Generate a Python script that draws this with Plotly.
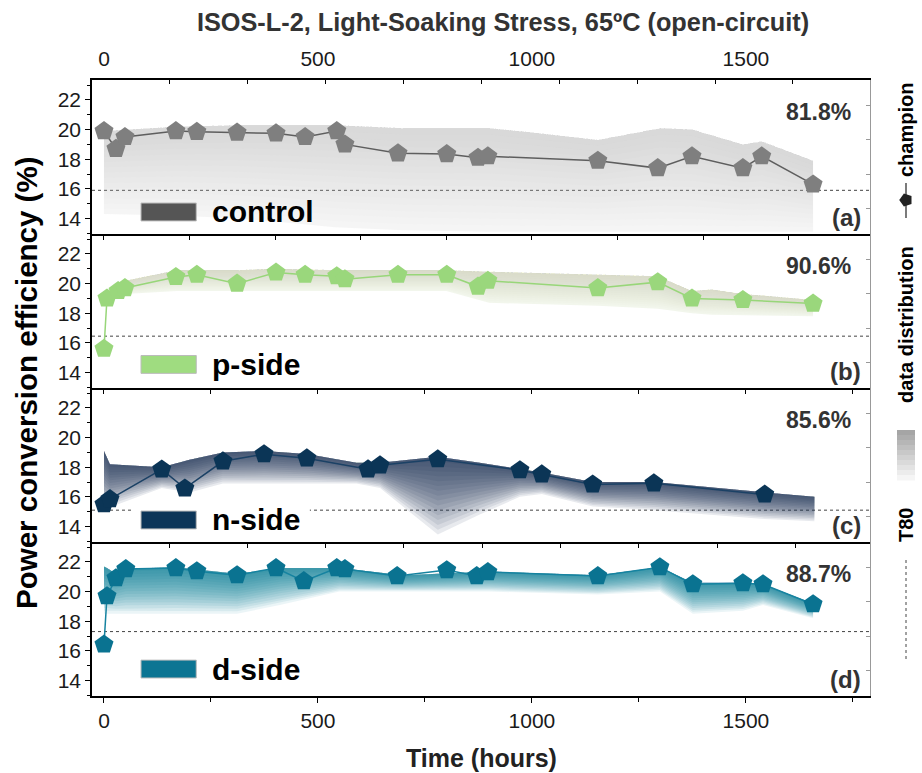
import numpy as np
import plotly.graph_objects as go

FONT = "Liberation Sans, Arial, Helvetica, sans-serif"

# ---------------- data ----------------
series_names = ["control", "p-side", "n-side", "d-side"]
panel_tags = ["(a)", "(b)", "(c)", "(d)"]
retention = ["81.8%", "90.6%", "85.6%", "88.7%"]
t80_values = [15.9, 16.45, 15.1, 17.3]

# champion devices
t_ctrl = [0, 28, 49, 168, 217, 311, 402, 470, 544, 563, 687, 801, 874, 897, 1154, 1294, 1374, 1493, 1537, 1657]
pce_ctrl = [19.9, 18.7, 19.5, 19.9, 19.85, 19.8, 19.75, 19.5, 19.9, 19.0, 18.4, 18.35, 18.1, 18.2, 17.9, 17.4, 18.2, 17.4, 18.2, 16.3]

t_p = [0, 7, 33, 49, 168, 217, 311, 402, 470, 544, 563, 687, 801, 874, 897, 1154, 1294, 1374, 1493, 1657]
pce_p = [15.6, 19.0, 19.5, 19.7, 20.45, 20.6, 20.0, 20.75, 20.6, 20.5, 20.3, 20.6, 20.6, 19.8, 20.2, 19.7, 20.1, 19.0, 18.9, 18.65]

t_n = [0, 14, 135, 189, 278, 374, 474, 617, 645, 780, 972, 1023, 1142, 1285, 1544]
pce_n = [15.5, 15.85, 17.85, 16.57, 18.4, 18.88, 18.6, 17.86, 18.13, 18.54, 17.8, 17.52, 16.84, 16.91, 16.16]

t_d = [0, 7, 28, 51, 168, 217, 311, 402, 467, 544, 563, 685, 801, 871, 897, 1154, 1299, 1376, 1493, 1540, 1657]
pce_d = [16.43, 19.69, 20.91, 21.52, 21.59, 21.38, 21.11, 21.59, 20.71, 21.59, 21.52, 21.05, 21.45, 21.05, 21.32, 21.05, 21.65, 20.5, 20.57, 20.5, 19.15]

# data distribution (upper / lower envelope)
band_t_ctrl = [0, 50, 170, 310, 400, 540, 700, 900, 1000, 1154, 1300, 1374, 1493, 1537, 1657]
band_hi_ctrl = [19.9, 20.0, 20.2, 20.3, 20.3, 20.3, 20.1, 20.1, 19.8, 19.3, 20.1, 20.0, 19.0, 19.2, 17.9]
band_lo_ctrl = [14.3, 14.3, 14.2, 14.0, 13.8, 13.4, 13.2, 13.1, 13.1, 13.1, 13.1, 13.1, 13.1, 13.1, 13.1]

band_t_p = [7, 50, 170, 310, 400, 550, 700, 800, 900, 1154, 1294, 1374, 1420, 1493, 1657]
band_hi_p = [19.3, 20.2, 20.9, 20.9, 21.0, 20.9, 20.9, 20.9, 20.8, 20.6, 20.5, 19.5, 19.6, 19.3, 18.9]
band_lo_p = [18.9, 19.3, 19.5, 19.5, 19.5, 19.5, 19.5, 19.5, 18.7, 18.5, 18.3, 18.0, 17.9, 17.9, 17.8]

band_t_n = [0, 14, 135, 200, 278, 374, 474, 590, 645, 780, 878, 972, 1023, 1142, 1285, 1544, 1660]
band_hi_n = [19.1, 18.2, 18.0, 18.5, 19.0, 19.1, 18.9, 18.3, 18.3, 18.7, 18.3, 17.9, 17.65, 17.0, 17.0, 16.3, 16.0]
band_lo_n = [15.3, 15.3, 16.6, 16.3, 16.9, 16.9, 16.9, 16.9, 16.6, 13.45, 14.8, 16.0, 16.2, 15.35, 15.1, 14.5, 14.35]

band_t_d = [0, 7, 28, 51, 168, 311, 411, 550, 700, 900, 1154, 1299, 1376, 1493, 1540, 1657]
band_hi_d = [21.7, 21.6, 21.2, 21.55, 21.65, 21.2, 21.6, 21.6, 21.1, 21.35, 21.1, 21.65, 20.6, 20.6, 20.5, 19.2]
band_lo_d = [18.5, 18.5, 18.5, 18.5, 18.5, 18.5, 19.1, 20.0, 20.0, 20.0, 19.8, 20.0, 18.5, 18.7, 19.1, 18.2]

# axis ticks
x_tick_vals = [0, 500, 1000, 1500]
y_tick_vals = [14, 16, 18, 20, 22]

# ---------------- styles ----------------
XR = [-28, 1790]
YR = [12.95, 23.35]
marker_colors = ["#7f7f7f", "#9ad77c", "#0b3556", "#0a7391"]
line_colors = ["#5e5e5e", "#98d679", "#1b4165", "#1683a0"]
swatch_colors = ["#555555", "#9fdc80", "#0c3558", "#0c7593"]
band_rgb = [(185, 185, 185), (185, 205, 150), (25, 50, 85), (0, 125, 150)]
band_base_alpha = [0.15, 0.18, 0.10, 0.08]
band_alpha = [0.028, 0.031, 0.087, 0.083]
N_LAYERS = 16
legend_y = [0.143, 0.153, 0.143, 0.175]
bottom_ticks = [dict(tickmode="linear", tick0=0, dtick=200),
                dict(tickmode="linear", tick0=0, dtick=250),
                dict(tickmode="linear", tick0=152, dtick=183),
                None]

champ = [(t_ctrl, pce_ctrl), (t_p, pce_p), (t_n, pce_n), (t_d, pce_d)]
bands = [(band_t_ctrl, band_hi_ctrl, band_lo_ctrl), (band_t_p, band_hi_p, band_lo_p),
         (band_t_n, band_hi_n, band_lo_n), (band_t_d, band_hi_d, band_lo_d)]

fig = go.Figure()
layout = {}
shapes = []
annotations = []

for i in range(4):
    k = i + 1
    xs = "x" if k == 1 else f"x{k}"
    ys = "y" if k == 1 else f"y{k}"
    # gradient-like distribution band: stacked translucent layers
    bt, hi, lo = bands[i]
    bt = np.array(bt, float)
    hi = np.array(hi, float)
    lo = np.array(lo, float)
    r, g, b = band_rgb[i]
    for j in range(N_LAYERS):
        f = (N_LAYERS - j) / N_LAYERS
        lo_j = hi - f * (hi - lo)
        a = band_base_alpha[i] if j == 0 else band_alpha[i]
        fig.add_trace(go.Scatter(
            x=np.concatenate([bt, bt[::-1]]), y=np.concatenate([hi, lo_j[::-1]]),
            fill="toself", mode="lines", line=dict(width=0),
            fillcolor=f"rgba({r},{g},{b},{a})",
            xaxis=xs, yaxis=ys, hoverinfo="skip", showlegend=False))
    # champion
    tx, pv = champ[i]
    fig.add_trace(go.Scatter(
        x=tx, y=pv, mode="lines+markers",
        line=dict(color=line_colors[i], width=1.5),
        marker=dict(symbol="pentagon", size=20, color=marker_colors[i], line=dict(width=0)),
        xaxis=xs, yaxis=ys, showlegend=False, name=series_names[i]))
    # empty trace so that the right-hand frame axis of this panel is drawn
    fig.add_trace(go.Scatter(x=[], y=[], xaxis=xs, yaxis=f"y{k + 4}", showlegend=False,
                             hoverinfo="skip"))

    dom = [1 - (i + 1) / 4, 1 - i / 4]
    xa = dict(domain=[0, 1], anchor=ys, range=XR, showline=True, linecolor="black",
              linewidth=1.5, showgrid=False, zeroline=False, ticks="outside", ticklen=4,
              tickcolor="black", tickwidth=1, showticklabels=False)
    if i < 3:
        xa.update(bottom_ticks[i])
    else:
        xa.update(tickmode="array", tickvals=x_tick_vals, showticklabels=True,
                  ticklen=5, tickfont=dict(family=FONT, size=21, color="#1a1a1a"),
                  minor=dict(ticks="outside", dtick=250, tick0=0, ticklen=4, tickcolor="black"))
    layout["xaxis" if k == 1 else f"xaxis{k}"] = xa
    layout["yaxis" if k == 1 else f"yaxis{k}"] = dict(
        domain=dom, anchor=xs, range=YR, showline=True, linecolor="black", linewidth=1.5,
        showgrid=False, zeroline=False, tickmode="array", tickvals=y_tick_vals,
        ticks="outside", ticklen=5, tickcolor="black",
        tickfont=dict(family=FONT, size=21, color="#1a1a1a"),
        minor=dict(ticks="outside", dtick=1, tick0=13, ticklen=3, tickcolor="black"))
    # right-hand frame with its own small inward ticks
    layout[f"yaxis{k + 4}"] = dict(
        overlaying=ys, side="right", anchor=xs, range=YR, showline=True, linecolor="#999999",
        linewidth=1, showgrid=False, zeroline=False, tickmode="array",
        tickvals=[14.7, 17.0, 19.3, 21.6], ticks="inside", ticklen=4, tickcolor="#999999",
        showticklabels=False)

    xd = f"{xs} domain"
    yd = f"{ys} domain"
    # T80 line
    shapes.append(dict(type="line", xref=xd, yref=ys, x0=0, x1=1, y0=t80_values[i], y1=t80_values[i],
                       line=dict(color="#444444", width=1, dash="dot"), layer="below"))
    if i == 2:
        shapes.append(dict(type="rect", xref=xd, yref=yd, x0=0.053, x1=0.28, y0=0.04, y1=0.27,
                           fillcolor="white", line=dict(width=0), layer="below"))
    # legend swatch + label
    shapes.append(dict(type="rect", xref=xd, yref=yd, x0=0.063, x1=0.134,
                       y0=legend_y[i] - 0.058, y1=legend_y[i] + 0.058,
                       fillcolor=swatch_colors[i], line=dict(color="#bbbbbb", width=1), layer="above"))
    annotations.append(dict(text=series_names[i], xref=xd, yref=yd, x=0.152, y=legend_y[i],
                            xanchor="left", yanchor="middle", showarrow=False,
                            font=dict(family=FONT, size=30, color="black", weight="bold")))
    annotations.append(dict(text=retention[i], xref=xd, yref=yd, x=0.978, y=0.792,
                            xanchor="right", yanchor="middle", showarrow=False,
                            font=dict(family=FONT, size=23, color="#333333", weight="bold")))
    annotations.append(dict(text=panel_tags[i], xref=xd, yref=yd, x=0.991, y=0.11,
                            xanchor="right", yanchor="middle", showarrow=False,
                            font=dict(family=FONT, size=24, color="#333333", weight="bold")))

# top axis (empty trace registers it)
fig.add_trace(go.Scatter(x=[], y=[], xaxis="x5", yaxis="y", showlegend=False, hoverinfo="skip"))
layout["xaxis5"] = dict(overlaying="x", side="top", anchor="y", range=XR, showline=True,
                        linecolor="black", linewidth=1.5, showgrid=False, zeroline=False,
                        tickmode="array", tickvals=x_tick_vals, ticks="inside", ticklen=0,
                        ticklabelstandoff=4,
                        tickfont=dict(family=FONT, size=21, color="#1a1a1a"),
                        minor=dict(ticks="inside", tickmode="array",
                                   tickvals=[154, 336, 518, 700, 882, 1064, 1246, 1428, 1610],
                                   ticklen=4, tickcolor="black"))

# right-hand key (rotated)
PL, PT, PH = 92, 80, 616


def py(px):
    return 1 - (px - PT) / PH


kx = (906 - PL) / 778
shapes.append(dict(type="line", xref="paper", yref="paper", x0=kx, x1=kx, y0=py(183), y1=py(218),
                   line=dict(color="#222222", width=1.2)))
pent_r = 0.011
pent_ang = np.deg2rad([180, 252, 324, 36, 108])
pent_x = kx + pent_r * 616 / 778 * np.cos(pent_ang)
pent_y = py(200) + pent_r * np.sin(pent_ang)
path = "M " + " L ".join(f"{a:.5f},{b:.5f}" for a, b in zip(pent_x, pent_y)) + " Z"
shapes.append(dict(type="path", xref="paper", yref="paper", path=path,
                   fillcolor="#222222", line=dict(width=0)))
n_strip = 10
for s in range(n_strip):
    gg = int(165 + s * (245 - 165) / (n_strip - 1))
    y0 = 430 + s * 50 / n_strip
    shapes.append(dict(type="rect", xref="paper", yref="paper", x0=(897 - PL) / 778, x1=(915 - PL) / 778,
                       y0=py(y0 + 50 / n_strip + 0.5), y1=py(y0), fillcolor=f"rgb({gg},{gg},{gg})",
                       line=dict(width=0)))
shapes.append(dict(type="line", xref="paper", yref="paper", x0=kx, x1=kx, y0=py(560), y1=py(660),
                   line=dict(color="#444444", width=1, dash="dot")))
for txt, cy in [("champion", 130), ("data distribution", 325), ("T80", 525)]:
    annotations.append(dict(text=txt, xref="paper", yref="paper", x=kx, y=py(cy), textangle=-90,
                            xanchor="center", yanchor="middle", showarrow=False,
                            font=dict(family=FONT, size=20, color="black", weight="bold")))

# axis titles
annotations.append(dict(text="Time (hours)", xref="paper", yref="paper", x=0.5, y=-(758 - 696) / PH,
                        xanchor="center", yanchor="middle", showarrow=False,
                        font=dict(family=FONT, size=25, color="#222222", weight="bold")))
annotations.append(dict(text="Power conversion efficiency (%)", xref="paper", yref="paper",
                        x=(27 - PL) / 778, y=py(383), textangle=-90, xanchor="center", yanchor="middle",
                        showarrow=False, font=dict(family=FONT, size=29.5, color="black", weight="bold")))

fig.update_layout(
    **layout,
    width=922, height=773,
    margin=dict(l=92, r=52, t=80, b=77),
    paper_bgcolor="white", plot_bgcolor="white",
    showlegend=False,
    shapes=shapes, annotations=annotations,
    title=dict(text="ISOS-L-2, Light-Soaking Stress, 65ºC (open-circuit)", x=503 / 922, xref="container",
               xanchor="center", y=1 - 22 / 773, yref="container", yanchor="middle",
               font=dict(family=FONT, size=25.3, color="#333333", weight="bold")),
)

fig.write_html("out.html")
